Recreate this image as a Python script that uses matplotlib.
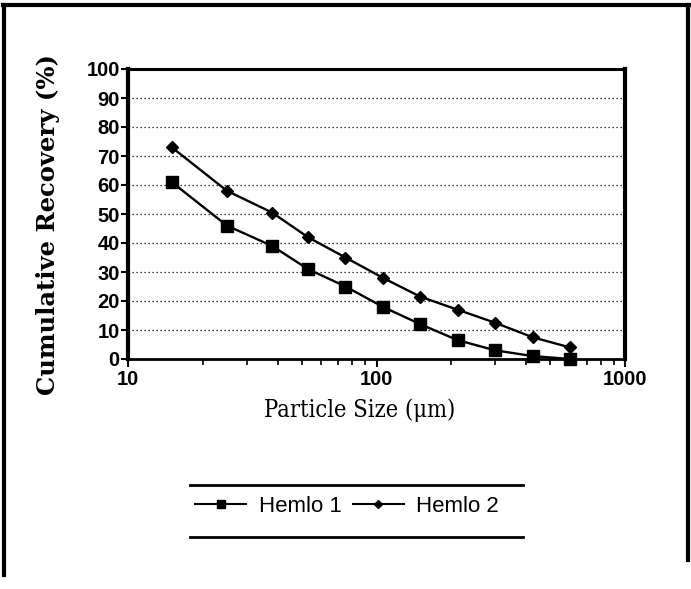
import matplotlib
matplotlib.use("Agg")
import matplotlib.pyplot as plt
from matplotlib.lines import Line2D
from matplotlib.ticker import FixedLocator, NullFormatter, LogLocator

particle_size = [15, 25, 38, 53, 75, 106, 150, 212, 300, 425, 600]
hemlo1 = [61, 46, 39, 31, 25, 18, 12, 6.5, 3, 1, 0]
hemlo2 = [73, 58, 50.5, 42, 35, 28, 21.5, 17, 12.5, 7.5, 4]
series_names = ["Hemlo 1", "Hemlo 2"]
y_ticks = [0, 10, 20, 30, 40, 50, 60, 70, 80, 90, 100]
x_ticks = [10, 100, 1000]
x_tick_labels = ["10", "100", "1000"]

W, H = 691, 589
fig = plt.figure(figsize=(W / 100, H / 100), dpi=100)
ax = fig.add_axes([128 / W, 1 - 359 / H, 497 / W, 290 / H])

ax.plot(particle_size, hemlo1, color="black", lw=1.7, marker="s", ms=8.5,
        label=series_names[0], clip_on=False)
ax.plot(particle_size, hemlo2, color="black", lw=1.7, marker="D", ms=6.5,
        label=series_names[1], clip_on=False)

ax.set_xscale("log")
ax.set_xlim(10, 1000)
ax.set_ylim(0, 100)
ax.set_yticks(y_ticks)
ax.set_yticklabels([str(v) for v in y_ticks])
ax.xaxis.set_major_locator(FixedLocator(x_ticks))
ax.set_xticklabels(x_tick_labels)
ax.xaxis.set_minor_locator(LogLocator(base=10, subs=range(2, 10)))
ax.xaxis.set_minor_formatter(NullFormatter())

for v in y_ticks[1:-1]:
    ax.axhline(v, color="black", lw=0.9, ls=(0, (1, 2.2)), zorder=0)

for lab in ax.get_yticklabels() + ax.get_xticklabels():
    lab.set_fontfamily("Liberation Sans")
    lab.set_fontweight("bold")
    lab.set_fontsize(14.5)

ax.tick_params(axis="y", which="major", direction="out", length=5, width=1.5, pad=1)
ax.tick_params(axis="x", which="major", direction="out", length=6, width=1.5, pad=2)
ax.tick_params(axis="x", which="minor", direction="out", length=4, width=1.2)

ax.spines["left"].set_linewidth(3)
ax.spines["right"].set_linewidth(3)
ax.spines["top"].set_linewidth(2.2)
ax.spines["bottom"].set_linewidth(2)

fig.text(48 / W, 1 - 225 / H, "Cumulative Recovery (%)", rotation=90,
         ha="center", va="center", fontfamily="DejaVu Serif",
         fontweight="bold", fontsize=17.5)
fig.text(360 / W, 1 - 410 / H, "Particle Size (\u03bcm)", ha="center", va="center",
         fontfamily="DejaVu Serif", fontsize=17, fontstretch="condensed")

# outer border (top, left, right)
fig.add_artist(Line2D([3 / W, 1], [1 - 5 / H, 1 - 5 / H], color="black", lw=3,
                      transform=fig.transFigure))
fig.add_artist(Line2D([4 / W, 4 / W], [1 - 5 / H, 1 - 575 / H], color="black", lw=3,
                      transform=fig.transFigure))
fig.add_artist(Line2D([688 / W, 688 / W], [1 - 5 / H, 1 - 560 / H], color="black", lw=3,
                      transform=fig.transFigure))

# legend with top/bottom rules
handles = [Line2D([], [], color="black", lw=1.5, marker="s", ms=5.5),
           Line2D([], [], color="black", lw=1.5, marker="D", ms=4)]
fig.legend(handles, series_names, loc="center", bbox_to_anchor=(347 / W, 1 - 506 / H),
           ncol=2, frameon=False, prop={"family": "Liberation Sans", "size": 16},
           handlelength=2.3, handletextpad=0.55, columnspacing=0.5)
for yy in (485, 537):
    fig.add_artist(Line2D([190 / W, 523 / W], [1 - yy / H, 1 - yy / H], color="black",
                          lw=2, transform=fig.transFigure))

fig.savefig("out.png", dpi=100)
